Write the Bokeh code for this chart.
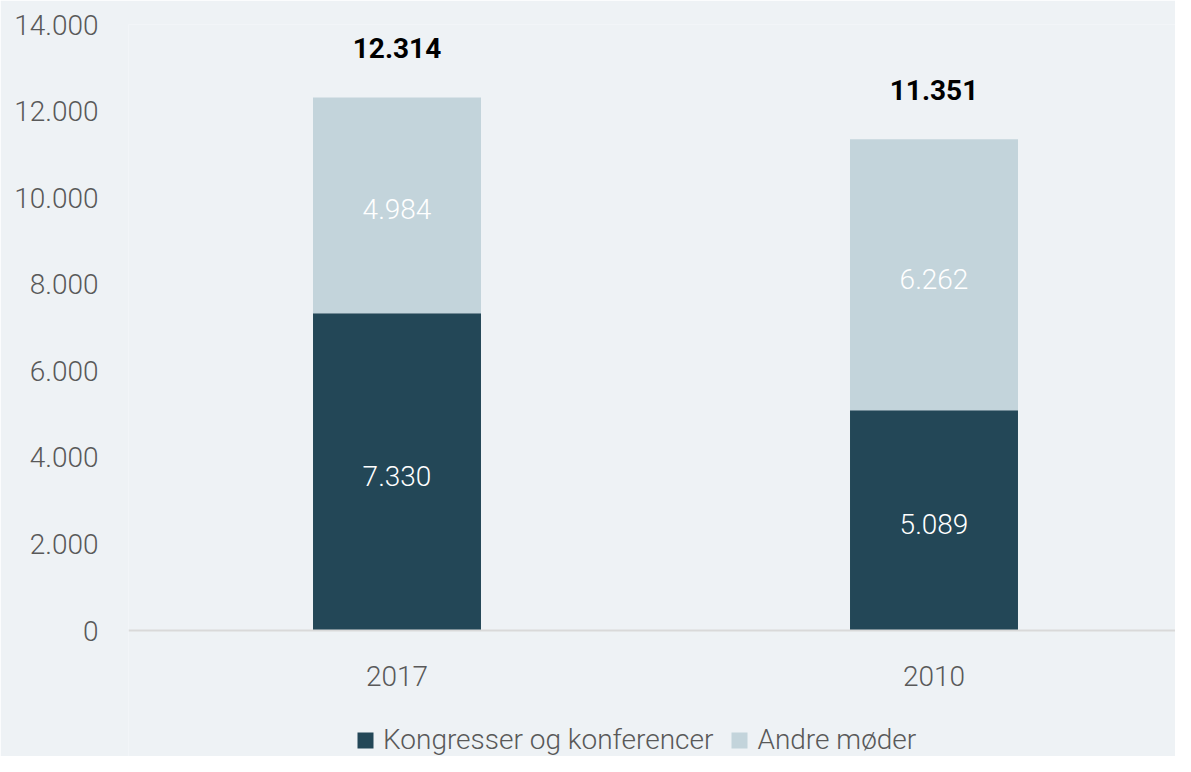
from bokeh.plotting import figure
from bokeh.models import ColumnDataSource, Range1d, FixedTicker, Legend, LegendItem, CustomJSTickFormatter, Span
from bokeh.embed import file_html
from bokeh.resources import INLINE
from bokeh.core.properties import value

years = ["2017", "2010"]
kongresser = [7330, 5089]
andre = [4984, 6262]
totals = [12314, 11351]
yticks = [0, 2000, 4000, 6000, 8000, 10000, 12000, 14000]

BG = "#EEF2F5"
DARK = "#234757"
LIGHT = "#C3D4DB"
FONT = "'Roboto Light', Roboto"
BFONT = "Roboto"
GREY = "#595959"

W, H = 1175, 756
LEFT, TOP = 128, 24
PLOT_H = 606          # pixel height of the 0..14000 span
YMAX = 14000
# frame extends below zero down to the bottom edge (room for year labels and legend)
ymin = -(H - TOP - PLOT_H) * YMAX / PLOT_H
xpos = [0.5, 1.5]
xmax = (W - LEFT) / 537.0

def fmt(v):
    return f"{v:,}".replace(",", ".")

src = ColumnDataSource(dict(
    x=xpos,
    year=years,
    zero=[0, 0],
    top1=kongresser,
    top2=[k + a for k, a in zip(kongresser, andre)],
    kmid=[k / 2 for k in kongresser],
    amid=[k + a / 2 for k, a in zip(kongresser, andre)],
    tot=totals,
    klab=[fmt(v) for v in kongresser],
    alab=[fmt(v) for v in andre],
    tlab=[fmt(v) for v in totals],
))

p = figure(width=W, height=H, output_backend="svg", toolbar_location=None,
           x_range=Range1d(0, xmax), y_range=Range1d(ymin, YMAX),
           x_axis_location=None,
           min_border_left=LEFT, min_border_right=0, min_border_top=TOP, min_border_bottom=0)
p.background_fill_color = BG
p.border_fill_color = BG
p.outline_line_color = None
p.xgrid.visible = False
p.ygrid.visible = False

p.add_layout(Span(location=0, dimension="width", line_color="#D9D9D9", line_width=2))

w = 0.3128
r1 = p.vbar(x="x", bottom=0, top="top1", width=w, color=DARK, line_color=None, source=src)
r2 = p.vbar(x="x", bottom="top1", top="top2", width=w, color=LIGHT, line_color=None, source=src)

p.text(x="x", y="kmid", text="klab", source=src, text_color="white", text_font=value(FONT),
       text_font_size="28px", text_align="center", text_baseline="middle", y_offset=4)
p.text(x="x", y="amid", text="alab", source=src, text_color="white", text_font=value(FONT),
       text_font_size="28px", text_align="center", text_baseline="middle", y_offset=4)
p.text(x="x", y="tot", text="tlab", source=src, text_color="black", text_font=value(BFONT),
       text_font_size="28px", text_font_style="bold", text_align="center", text_baseline="middle", y_offset=-49)
# category labels under the baseline
p.text(x="x", y="zero", text="year", source=src, text_color=GREY, text_font=value(FONT),
       text_font_size="28px", text_align="center", text_baseline="middle", y_offset=45)

# y axis
p.yaxis.ticker = FixedTicker(ticks=yticks)
p.yaxis.formatter = CustomJSTickFormatter(code="return tick.toLocaleString('en-US').replace(/,/g, '.');")
p.yaxis.axis_line_color = None
p.yaxis.major_tick_line_color = None
p.yaxis.minor_tick_line_color = None
p.yaxis.major_tick_out = 0
p.yaxis.major_tick_in = 0
p.yaxis.major_label_standoff = 30
p.yaxis.major_label_text_font = FONT
p.yaxis.major_label_text_font_size = "28px"
p.yaxis.major_label_text_color = GREY

legend = Legend(items=[
    LegendItem(label="Kongresser og konferencer", renderers=[r1]),
    LegendItem(label="Andre møder", renderers=[r2]),
], orientation="horizontal", location=(227, 0))
legend.background_fill_alpha = 0
legend.border_line_color = None
legend.label_text_font = FONT
legend.label_text_font_size = "28px"
legend.label_text_color = GREY
legend.glyph_width = 20
legend.glyph_height = 20
legend.label_standoff = 8
legend.spacing = 16
legend.padding = 0
legend.margin = 0
p.add_layout(legend, "center")

open("out.html", "w").write(file_html(p, INLINE))
